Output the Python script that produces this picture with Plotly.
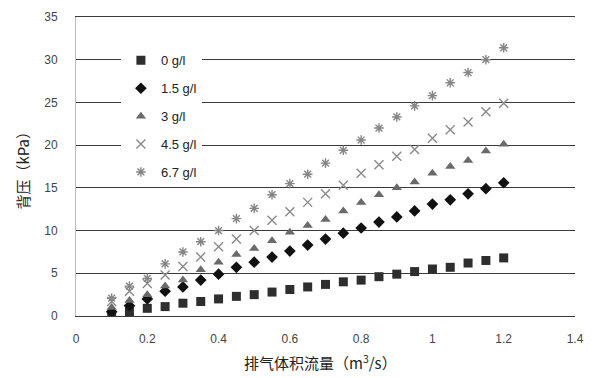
import plotly.graph_objects as go

flow = [0.10, 0.15, 0.20, 0.25, 0.30, 0.35, 0.40, 0.45, 0.50, 0.55, 0.60, 0.65,
        0.70, 0.75, 0.80, 0.85, 0.90, 0.95, 1.00, 1.05, 1.10, 1.15, 1.20]

s0 = [0.1, 0.5, 0.9, 1.1, 1.5, 1.7, 2.0, 2.3, 2.5, 2.8, 3.1, 3.4,
      3.7, 4.0, 4.2, 4.6, 4.9, 5.2, 5.5, 5.7, 6.2, 6.5, 6.8]
s15 = [0.5, 1.2, 2.0, 2.9, 3.4, 4.2, 4.9, 5.7, 6.3, 6.9, 7.6, 8.3,
       9.0, 9.7, 10.3, 11.0, 11.6, 12.3, 13.1, 13.6, 14.3, 14.9, 15.6]
s3 = [1.0, 1.8, 2.5, 3.5, 4.2, 5.4, 6.3, 7.2, 7.9, 8.8, 9.8, 10.6,
      11.3, 12.3, 13.3, 14.2, 15.0, 15.7, 16.7, 17.5, 18.2, 19.3, 20.1]
s45 = [1.7, 2.9, 3.8, 4.8, 5.8, 6.9, 8.1, 9.0, 10.0, 11.2, 12.2, 13.3,
       14.3, 15.3, 16.7, 17.7, 18.7, 19.5, 20.8, 21.8, 22.7, 23.9, 24.9]
s67 = [2.1, 3.5, 4.4, 6.1, 7.5, 8.7, 10.0, 11.4, 12.6, 14.2, 15.5, 16.6,
       17.9, 19.4, 20.6, 22.0, 23.3, 24.6, 25.8, 27.3, 28.5, 30.0, 31.4]

names = ["0 g/l", "1.5 g/l", "3 g/l", "4.5 g/l", "6.7 g/l"]
series = [s0, s15, s3, s45, s67]
symbols = ["square", "diamond", "triangle-up", "x-thin-open", "asterisk-open"]
colors = ["#2e2e2e", "#111111", "#6a6a6a", "#8a8a8a", "#858585"]
sizes = [9, 9, 9, 9, 8]

xticks = [0, 0.2, 0.4, 0.6, 0.8, 1.0, 1.2, 1.4]
xticklabels = ["0", "0.2", "0.4", "0.6", "0.8", "1", "1.2", "1.4"]
yticks = [0, 5, 10, 15, 20, 25, 30, 35]

fig = go.Figure()
for i, (n, s, sym, c, sz) in enumerate(zip(names, series, symbols, colors, sizes)):
    fig.add_trace(go.Scatter(
        x=flow, y=s, mode="markers", name=n, legendgroup=f"g{i}",
        marker=dict(symbol=sym, color=c, size=sz,
                    line=dict(color=c, width=1.4 if "open" in sym else 0))))

cjk = "Noto Sans CJK SC"
fig.update_layout(
    width=592, height=370,
    margin=dict(l=68, r=25, t=9, b=62, autoexpand=False),
    paper_bgcolor="white", plot_bgcolor="white",
    font=dict(family="Liberation Sans", size=12, color="#444"),
    showlegend=True,
    legend=dict(x=0.09, y=0.905, xanchor="left", yanchor="top",
                bgcolor="white", borderwidth=0,
                font=dict(size=13, color="#222"),
                itemwidth=30, itemsizing="trace", tracegroupgap=8),
    xaxis=dict(range=[0, 1.4], tickvals=xticks, ticktext=xticklabels,
               showgrid=False, zeroline=False, showline=True, mirror=True,
               linecolor="#3a3a3a", linewidth=1,
               ticks="", ticklabelstandoff=12, automargin=False),
    yaxis=dict(range=[0, 35], tickvals=yticks, showgrid=True,
               gridcolor="#3a3a3a", gridwidth=1, zeroline=False,
               showline=True, linecolor="#bbbbbb", linewidth=1,
               ticks="", ticklabelstandoff=15, automargin=False),
    annotations=[
        dict(text="排气体积流量（m<sup>3</sup>/s）", xref="paper", yref="paper",
             x=0.49, y=-0.155, xanchor="center", yanchor="middle", showarrow=False,
             font=dict(family=cjk, size=15, color="#222")),
        dict(text="背压（kPa）", xref="paper", yref="paper",
             x=-0.108, y=0.5, xanchor="center", yanchor="middle", showarrow=False,
             textangle=-90, font=dict(family=cjk, size=15, color="#222")),
    ],
)
fig.write_html("out.html")
